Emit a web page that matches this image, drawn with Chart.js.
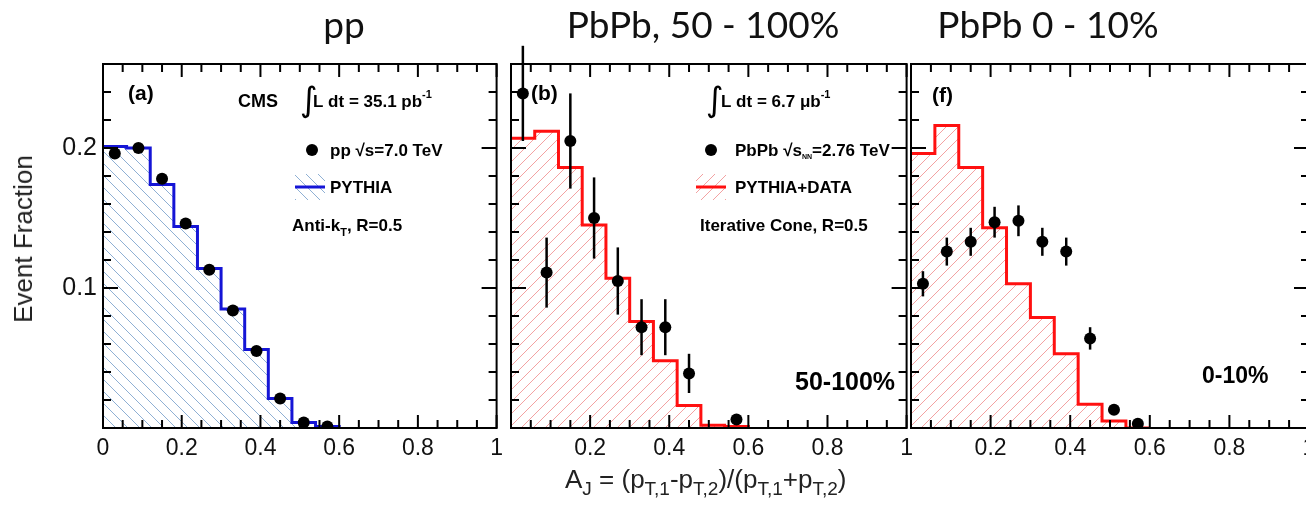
<!DOCTYPE html>
<html>
<head>
<meta charset="utf-8">
<title>Dijet asymmetry A_J</title>
<script src="https://cdn.jsdelivr.net/npm/chart.js@4.4.1/dist/chart.umd.min.js"></script>
<style>
  html, body { margin: 0; padding: 0; background: #fff; overflow: hidden; }
  #page { position: relative; width: 1306px; height: 510px; overflow: hidden; }
  canvas { position: absolute; top: 0; }
  .title {
    position: absolute; top: 5px; white-space: nowrap; line-height: 1;
    transform: translateX(-50%);
    font-family: Lato, "Open Sans", sans-serif; font-size: 37px; color: #111;
  }
  #ytitle {
    position: absolute; left: 23px; top: 239px; white-space: nowrap; line-height: 1;
    transform: translate(-50%, -50%) rotate(-90deg);
    font-family: "Liberation Sans", Arial, sans-serif; font-size: 26px; color: #222;
  }
  #xtitle {
    position: absolute; left: 565px; top: 466px; white-space: nowrap; line-height: 1;
    font-family: "Liberation Sans", Arial, sans-serif; font-size: 26px; color: #222;
  }
  #xtitle sub { font-size: 19px; vertical-align: -7px; }
</style>
</head>
<body>
<div id="page">
  <canvas id="chart-pp" width="510" height="510" style="left:0px"></canvas>
  <canvas id="chart-periph" width="415" height="510" style="left:505px"></canvas>
  <canvas id="chart-central" width="420" height="510" style="left:905px"></canvas>

  <div class="title" style="left:344px">pp</div>
  <div class="title" style="left:703px">PbPb, 50 - 100%</div>
  <div class="title" style="left:1048px">PbPb 0 - 10%</div>

  <div id="ytitle">Event Fraction</div>
  <div id="xtitle">A<sub>J</sub> = (p<sub>T,1</sub>-p<sub>T,2</sub>)/(p<sub>T,1</sub>+p<sub>T,2</sub>)</div>
</div>

<script>
// A_J binning
const binEdges = [0, 0.06, 0.12, 0.18, 0.24, 0.30, 0.36, 0.42, 0.48, 0.54, 0.60];
const binCentres = [0.03, 0.09, 0.15, 0.21, 0.27, 0.33, 0.39, 0.45, 0.51, 0.57];

// pp, sqrt(s) = 7 TeV
const ppPythia = [0.201, 0.200, 0.174, 0.144, 0.114, 0.085, 0.056, 0.021, 0.004, 0.001];
const ppData   = [0.196, 0.200, 0.178, 0.146, 0.113, 0.084, 0.055, 0.021, 0.004, 0.001];

// PbPb 50-100%
const periphPythia = [0.207, 0.212, 0.186, 0.145, 0.107, 0.076, 0.048, 0.016, 0.002, 0.001];
const periphData   = [0.239, 0.111, 0.205, 0.150, 0.105, 0.072, 0.072, 0.039, null, 0.006];
const periphErr    = [0.034, 0.025, 0.034, 0.029, 0.024, 0.020, 0.020, 0.014, 0, 0.003];

// PbPb 0-10%
const centralPythia = [0.196, 0.216, 0.186, 0.143, 0.103, 0.079, 0.053, 0.017, 0.005, 0];
const centralData   = [0.103, 0.126, 0.133, 0.147, 0.148, 0.133, 0.126, 0.064, 0.013, 0.003];
const centralErr    = [0.009, 0.010, 0.010, 0.011, 0.011, 0.010, 0.010, 0.008, 0.002, 0.001];

// Axis ticks
const xLabelTicks = [0, 0.2, 0.4, 0.6, 0.8, 1];
const yLabelTicks = [0.1, 0.2];
const yMax = 0.26;

const SANS = '"Liberation Sans", Arial, sans-serif';
const bold = s => 'bold ' + s + 'px ' + SANS;

// Diagonal hatching like ROOT fill styles 3004/3005
function makeHatch(color, forward) {
  const size = 12;
  const c = document.createElement('canvas');
  c.width = size; c.height = size;
  const g = c.getContext('2d');
  g.strokeStyle = color;
  g.lineWidth = 1;
  g.beginPath();
  if (forward) {
    g.moveTo(0, size); g.lineTo(size, 0);
    g.moveTo(-2, 2); g.lineTo(2, -2);
    g.moveTo(size - 2, size + 2); g.lineTo(size + 2, size - 2);
  } else {
    g.moveTo(0, 0); g.lineTo(size, size);
    g.moveTo(size - 2, -2); g.lineTo(size + 2, 2);
    g.moveTo(-2, size - 2); g.lineTo(2, size + 2);
  }
  g.stroke();
  return g.createPattern(c, 'repeat');
}

const blueHatch = makeHatch('#8fb0d4', false);
const redHatch = makeHatch('#f3a2a2', true);

// Histogram outline as a stepped line through the bin edges
function histSteps(values) {
  const pts = values.map((v, i) => ({ x: binEdges[i], y: v }));
  const last = values[values.length - 1];
  pts.push({ x: binEdges[binEdges.length - 1], y: last });
  pts.push({ x: binEdges[binEdges.length - 1], y: 0 });
  return pts;
}

function dataPoints(values, errors) {
  return binCentres
    .map((x, i) => ({ x: x, y: values[i], err: errors ? errors[i] : 0 }))
    .filter(p => p.y !== null);
}

// Vertical error bars under each marker
const errorBars = {
  id: 'errorBars',
  beforeDatasetDraw(chart, args) {
    const ds = chart.data.datasets[args.index];
    if (!ds.showErrors) return;
    const xs = chart.scales.x, ys = chart.scales.y;
    const ctx = chart.ctx;
    ctx.save();
    ctx.strokeStyle = '#000';
    ctx.lineWidth = 2.5;
    ds.data.forEach(p => {
      if (!p.err) return;
      const px = xs.getPixelForValue(p.x);
      ctx.beginPath();
      ctx.moveTo(px, ys.getPixelForValue(p.y - p.err));
      ctx.lineTo(px, ys.getPixelForValue(p.y + p.err));
      ctx.stroke();
    });
    ctx.restore();
  }
};

// Closed frame with inward ticks on all four sides
const frame = {
  id: 'frame',
  afterDatasetsDraw(chart) {
    const { ctx, chartArea: a } = chart;
    const xs = chart.scales.x, ys = chart.scales.y;
    ctx.save();
    ctx.strokeStyle = '#000';
    ctx.lineWidth = 2;
    ctx.strokeRect(a.left, a.top, a.right - a.left, a.bottom - a.top);
    ctx.beginPath();
    for (let i = 0; i <= 20; i++) {
      const px = xs.getPixelForValue(i * 0.05);
      const len = i % 4 === 0 ? 13 : 8;
      ctx.moveTo(px, a.bottom); ctx.lineTo(px, a.bottom - len);
      ctx.moveTo(px, a.top); ctx.lineTo(px, a.top + len);
    }
    for (let i = 0; i <= 13; i++) {
      const py = ys.getPixelForValue(i * 0.02);
      const len = i % 5 === 0 ? 15 : 8;
      ctx.moveTo(a.left, py); ctx.lineTo(a.left + len, py);
      ctx.moveTo(a.right, py); ctx.lineTo(a.right - len, py);
    }
    ctx.stroke();
    ctx.restore();
  }
};

// Panel labels, legend and run information
const notes = {
  id: 'notes',
  afterDraw(chart, args, opts) {
    const { ctx, chartArea: a } = chart;
    ctx.save();
    ctx.fillStyle = '#000';
    ctx.textBaseline = 'alphabetic';
    (opts.items || []).forEach(it => {
      const x = a.left + it.x, y = a.top + it.y;
      if (it.kind === 'text') {
        let cx = x;
        it.parts.forEach(p => {
          ctx.font = p.font;
          ctx.fillText(p.t, cx, y + (p.dy || 0));
          cx += ctx.measureText(p.t).width + (p.gap || 0);
        });
      } else if (it.kind === 'dot') {
        ctx.beginPath();
        ctx.arc(x, y, 6, 0, Math.PI * 2);
        ctx.fill();
      } else if (it.kind === 'box') {
        ctx.fillStyle = it.fill;
        ctx.fillRect(x, y, it.w, it.h);
        ctx.strokeStyle = it.color;
        ctx.lineWidth = 3;
        ctx.beginPath();
        ctx.moveTo(x, y + it.h / 2);
        ctx.lineTo(x + it.w, y + it.h / 2);
        ctx.stroke();
        ctx.fillStyle = '#000';
      }
    });
    ctx.restore();
  }
};

function makePanel(id, opts) {
  return new Chart(document.getElementById(id), {
    type: 'line',
    data: {
      datasets: [
        {
          type: 'scatter',
          data: dataPoints(opts.data, opts.errors),
          showErrors: !!opts.errors,
          pointRadius: 6,
          pointBackgroundColor: '#000',
          pointBorderWidth: 0,
          showLine: false
        },
        {
          data: histSteps(opts.pythia),
          stepped: true,
          fill: 'origin',
          backgroundColor: opts.hatch,
          borderColor: opts.color,
          borderWidth: 3,
          pointRadius: 0
        }
      ]
    },
    options: {
      responsive: false,
      animation: false,
      events: [],
      layout: { padding: opts.padding },
      plugins: {
        legend: { display: false },
        tooltip: { enabled: false },
        notes: { items: opts.notes }
      },
      scales: {
        x: {
          type: 'linear',
          min: 0,
          max: 1,
          grid: { display: false, drawTicks: false },
          border: { display: false },
          afterFit: s => { s.height = 82; },
          afterBuildTicks: s => {
            s.ticks = xLabelTicks.filter(v => v > 0 || opts.zeroLabel).map(v => ({ value: v }));
          },
          ticks: {
            autoSkip: false,
            maxRotation: 0,
            padding: 7,
            color: '#111',
            font: { family: SANS, size: 23 },
            callback: v => (v === 0 || v === 1) ? String(v) : v.toFixed(1)
          }
        },
        y: {
          type: 'linear',
          min: 0,
          max: yMax,
          display: opts.yLabels,
          grid: { display: false, drawTicks: false },
          border: { display: false },
          afterFit: s => { s.width = opts.yLabels ? 103 : 0; },
          afterBuildTicks: s => { s.ticks = yLabelTicks.map(v => ({ value: v })); },
          ticks: {
            padding: 6,
            color: '#111',
            font: { family: SANS, size: 25 },
            callback: v => v.toFixed(1)
          }
        }
      }
    },
    plugins: [errorBars, frame, notes]
  });
}

const INTEGRAL = '34px "DejaVu Sans", sans-serif';

makePanel('chart-pp', {
  pythia: ppPythia,
  data: ppData,
  errors: null,
  color: '#1515d6',
  hatch: blueHatch,
  yLabels: true,
  zeroLabel: true,
  padding: { top: 64, right: 10, left: 0, bottom: 0 },
  notes: [
    { kind: 'text', x: 25, y: 36, parts: [{ t: '(a)', font: bold(21) }] },
    { kind: 'text', x: 135, y: 43, parts: [{ t: 'CMS', font: bold(18) }] },
    { kind: 'text', x: 197, y: 47, parts: [{ t: '\u222B', font: INTEGRAL }] },
    { kind: 'text', x: 210, y: 43, parts: [
      { t: 'L dt = 35.1 pb', font: bold(17) },
      { t: '-1', font: bold(11), dy: -9 }
    ] },
    { kind: 'dot', x: 209, y: 86 },
    { kind: 'text', x: 227, y: 92, parts: [
      { t: 'pp ', font: bold(17) },
      { t: '\u221As', font: bold(17) },
      { t: '=7.0 TeV', font: bold(17) }
    ] },
    { kind: 'box', x: 192, y: 110, w: 30, h: 26, fill: blueHatch, color: '#1515d6' },
    { kind: 'text', x: 227, y: 129, parts: [{ t: 'PYTHIA', font: bold(17) }] },
    { kind: 'text', x: 189, y: 167, parts: [
      { t: 'Anti-k', font: bold(17) },
      { t: 'T', font: bold(11), dy: 5 },
      { t: ', R=0.5', font: bold(17) }
    ] }
  ]
});

makePanel('chart-periph', {
  pythia: periphPythia,
  data: periphData,
  errors: periphErr,
  color: '#ff1010',
  hatch: redHatch,
  yLabels: false,
  zeroLabel: false,
  padding: { top: 64, right: 12, left: 3, bottom: 0 },
  notes: [
    { kind: 'text', x: 20, y: 36, parts: [{ t: '(b)', font: bold(21) }] },
    { kind: 'text', x: 195, y: 47, parts: [{ t: '\u222B', font: INTEGRAL }] },
    { kind: 'text', x: 210, y: 43, parts: [
      { t: 'L dt = 6.7 \u03BCb', font: bold(17) },
      { t: '-1', font: bold(11), dy: -9 }
    ] },
    { kind: 'dot', x: 200, y: 86 },
    { kind: 'text', x: 224, y: 92, parts: [
      { t: 'PbPb ', font: bold(17) },
      { t: '\u221As', font: bold(17) },
      { t: 'NN', font: bold(7), dy: 3 },
      { t: '=2.76 TeV', font: bold(17) }
    ] },
    { kind: 'box', x: 185, y: 110, w: 30, h: 26, fill: redHatch, color: '#ff1010' },
    { kind: 'text', x: 224, y: 129, parts: [{ t: 'PYTHIA+DATA', font: bold(17) }] },
    { kind: 'text', x: 189, y: 167, parts: [{ t: 'Iterative Cone, R=0.5', font: bold(17) }] },
    { kind: 'text', x: 284, y: 326, parts: [{ t: '50-100%', font: bold(25) }] }
  ]
});

makePanel('chart-central', {
  pythia: centralPythia,
  data: centralData,
  errors: centralErr,
  color: '#ff1010',
  hatch: redHatch,
  yLabels: false,
  zeroLabel: false,
  padding: { top: 64, right: 16, left: 6, bottom: 0 },
  notes: [
    { kind: 'text', x: 21, y: 38, parts: [{ t: '(f)', font: bold(21) }] },
    { kind: 'text', x: 291, y: 319, parts: [{ t: '0-10%', font: bold(23) }] }
  ]
});
</script>
</body>
</html>
